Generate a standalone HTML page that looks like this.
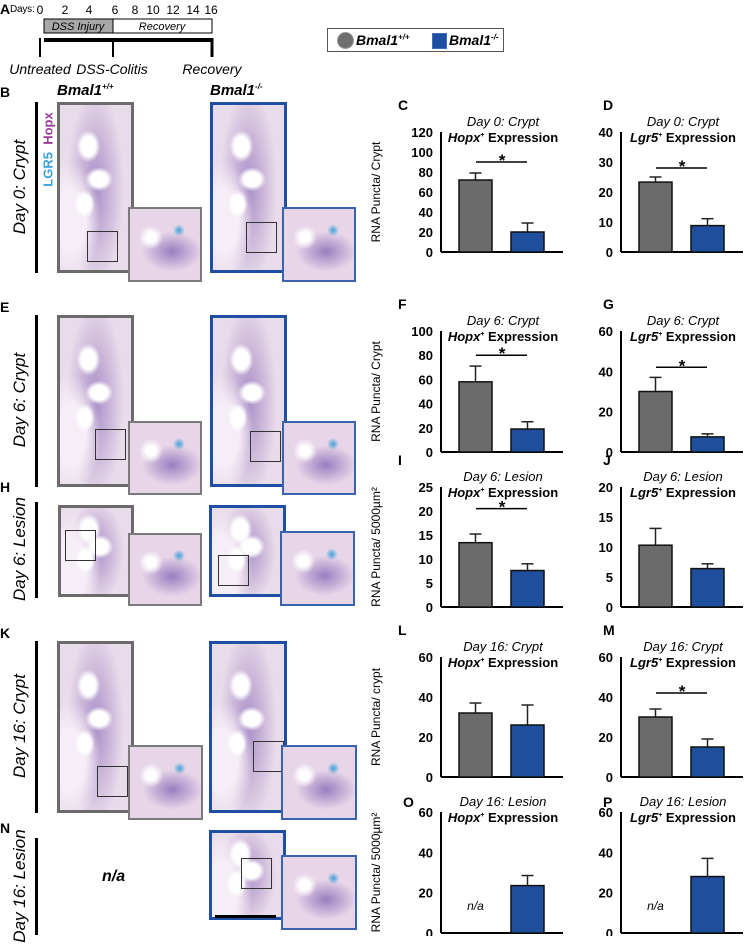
<!DOCTYPE html>
<html><head><meta charset="utf-8">
<style>
body{margin:0;width:744px;height:936px;background:#fff;position:relative;overflow:hidden;font-family:"Liberation Sans",sans-serif}
.a{position:absolute}
.tis{position:absolute;box-sizing:border-box;background:
radial-gradient(ellipse 12px 16px at 40% 25%,#fff 60%,transparent 100%),
radial-gradient(ellipse 14px 12px at 55% 45%,#fff 60%,transparent 100%),
radial-gradient(ellipse 10px 14px at 35% 60%,#fff 60%,transparent 100%),
radial-gradient(ellipse 30px 60px at 15% 70%,#f6eef6 50%,transparent 100%),
radial-gradient(ellipse 40% 60% at 50% 50%,#a890c8 0%,#c9b4d8 50%,#e9dcea 100%);}
.ins{position:absolute;box-sizing:border-box;background:
radial-gradient(circle 12px at 30% 40%,#fff 40%,transparent 100%),
radial-gradient(ellipse 30px 20px at 60% 60%,#9a7ec0 0%,transparent 100%),
radial-gradient(circle 6px at 70% 30%,#3fa0d8 0%,transparent 100%),
#e6d6e8;}
.g{border:3px solid #6b6b6b}.b{border:3px solid #1f4fa0}
.gi{border:2px solid #7a7a7a}.bi{border:2px solid #3a62ad}
.sq{position:absolute;border:1px solid #333;box-sizing:border-box}
.vb{position:absolute;left:35px;width:3px;background:#000}
.rl{position:absolute;font-style:italic;font-size:17px;transform:rotate(-90deg);transform-origin:center;white-space:nowrap;text-align:center}
.L{position:absolute;font-weight:bold;font-size:14px}
</style></head><body>
<div class="L" style="left:0;top:1px">A</div>
<div class="a" style="left:10px;top:4px;font-size:10px;letter-spacing:-0.2px">Days:</div>
<svg class="a" style="left:0;top:0" width="330" height="80">
<g font-size="12" text-anchor="middle" font-family="Liberation Sans">
<text x="40" y="14">0</text><text x="65" y="14">2</text><text x="89" y="14">4</text><text x="115" y="14">6</text><text x="135" y="14">8</text><text x="153" y="14">10</text><text x="173" y="14">12</text><text x="193" y="14">14</text><text x="211" y="14">16</text></g>
<rect x="44" y="19" width="69" height="14" fill="#a8a8a8" stroke="#000"/>
<rect x="113" y="19" width="99" height="14" fill="#fff" stroke="#000"/>
<text x="78" y="30" font-size="11" font-style="italic" text-anchor="middle">DSS Injury</text>
<text x="162" y="30" font-size="11" font-style="italic" text-anchor="middle">Recovery</text>
<line x1="44" y1="40" x2="212" y2="40" stroke="#000" stroke-width="4"/>
<line x1="40" y1="38" x2="40" y2="57" stroke="#000" stroke-width="2"/>
<line x1="113" y1="40" x2="113" y2="57" stroke="#000" stroke-width="2"/>
<line x1="212" y1="38" x2="212" y2="57" stroke="#000" stroke-width="3"/>
<g font-size="14" font-style="italic" text-anchor="middle"><text x="40" y="74">Untreated</text><text x="112" y="74">DSS-Colitis</text><text x="212" y="74">Recovery</text></g>
</svg>
<div class="a" style="left:327px;top:28px;width:177px;height:24px;border:1px solid #555;box-sizing:border-box">
<div class="a" style="left:9px;top:3px;width:15px;height:15px;border-radius:50%;background:#6e6e6e;border:1px solid #999"></div>
<div class="a" style="left:28px;top:3px;font-weight:bold;font-style:italic;font-size:14px">Bmal1<sup style="font-size:8px">+/+</sup></div>
<div class="a" style="left:104px;top:4px;width:13px;height:14px;background:#1f4fa0;border:1px solid #3f6fc0"></div>
<div class="a" style="left:121px;top:3px;font-weight:bold;font-style:italic;font-size:14px">Bmal1<sup style="font-size:8px">-/-</sup></div>
</div>

<div class="L" style="left:0;top:84px">B</div>
<div class="a" style="left:57px;top:82px;font-weight:bold;font-style:italic;font-size:15px">Bmal1<sup style="font-size:8px">+/+</sup></div>
<div class="a" style="left:210px;top:82px;font-weight:bold;font-style:italic;font-size:15px">Bmal1<sup style="font-size:8px">-/-</sup></div>
<div class="L" style="left:0;top:299px">E</div>
<div class="L" style="left:0;top:479px">H</div>
<div class="L" style="left:0;top:625px">K</div>
<div class="L" style="left:0;top:820px">N</div>

<div class="vb" style="top:102px;height:171px"></div>
<div class="vb" style="top:315px;height:172px"></div>
<div class="vb" style="top:502px;height:96px"></div>
<div class="vb" style="top:641px;height:172px"></div>
<div class="vb" style="top:838px;height:97px"></div>
<div class="rl" style="left:-40px;top:177px;width:120px">Day 0: Crypt</div>
<div class="rl" style="left:-40px;top:390px;width:120px">Day 6: Crypt</div>
<div class="rl" style="left:-40px;top:539px;width:120px">Day 6: Lesion</div>
<div class="rl" style="left:-40px;top:716px;width:120px">Day 16: Crypt</div>
<div class="rl" style="left:-40px;top:876px;width:120px">Day 16: Lesion</div>
<div class="rl" style="left:8px;top:142px;width:80px;font-style:normal;font-weight:bold;font-size:13px;color:#3aa0dc"><span style="color:#3aa0dc">LGR5</span> &nbsp;<span style="color:#9b3c9b">Hopx</span></div>

<div class="tis g" style="left:57px;top:102px;width:77px;height:171px"></div>
<div class="sq" style="left:87px;top:231px;width:31px;height:31px"></div>
<div class="ins gi" style="left:128px;top:207px;width:74px;height:75px"></div>
<div class="tis b" style="left:210px;top:102px;width:77px;height:171px"></div>
<div class="sq" style="left:246px;top:222px;width:31px;height:31px"></div>
<div class="ins bi" style="left:282px;top:207px;width:74px;height:75px"></div>

<div class="tis g" style="left:57px;top:315px;width:77px;height:172px"></div>
<div class="sq" style="left:95px;top:429px;width:31px;height:31px"></div>
<div class="ins gi" style="left:128px;top:421px;width:74px;height:74px"></div>
<div class="tis b" style="left:210px;top:315px;width:77px;height:172px"></div>
<div class="sq" style="left:250px;top:431px;width:31px;height:31px"></div>
<div class="ins bi" style="left:282px;top:421px;width:74px;height:74px"></div>

<div class="tis g" style="left:58px;top:505px;width:76px;height:92px"></div>
<div class="sq" style="left:65px;top:530px;width:31px;height:31px"></div>
<div class="ins gi" style="left:128px;top:533px;width:74px;height:73px"></div>
<div class="tis b" style="left:209px;top:505px;width:77px;height:92px"></div>
<div class="sq" style="left:218px;top:555px;width:31px;height:31px"></div>
<div class="ins bi" style="left:280px;top:531px;width:75px;height:75px"></div>

<div class="tis g" style="left:57px;top:641px;width:77px;height:172px"></div>
<div class="sq" style="left:97px;top:766px;width:31px;height:31px"></div>
<div class="ins gi" style="left:128px;top:745px;width:75px;height:75px"></div>
<div class="tis b" style="left:209px;top:641px;width:78px;height:172px"></div>
<div class="sq" style="left:253px;top:741px;width:31px;height:31px"></div>
<div class="ins bi" style="left:281px;top:745px;width:76px;height:75px"></div>

<div class="a" style="left:102px;top:868px;font-size:16px;font-weight:bold;font-style:italic">n/a</div>
<div class="tis b" style="left:209px;top:830px;width:77px;height:90px"></div>
<div class="sq" style="left:241px;top:858px;width:31px;height:31px"></div>
<div class="ins bi" style="left:281px;top:855px;width:76px;height:75px"></div>
<div class="a" style="left:215px;top:915px;width:61px;height:3px;background:#000"></div>

<svg id="charts" class="a" style="left:0;top:0" width="744" height="936" font-family="Liberation Sans"></svg>
<script>
const panelLetters=["C","D","F","G","I","J","L","M","O","P"];
const titles=["Day 0: Crypt","Day 0: Crypt","Day 6: Crypt","Day 6: Crypt","Day 6: Lesion","Day 6: Lesion","Day 16: Crypt","Day 16: Crypt","Day 16: Lesion","Day 16: Lesion"];
const genes=["Hopx","Lgr5","Hopx","Lgr5","Hopx","Lgr5","Hopx","Lgr5","Hopx","Lgr5"];
const yMax=[120,40,100,60,25,20,60,60,60,60];
const tickStep=[20,10,20,20,5,5,20,20,20,20];
const wtMeans=[72,23.3,58,30,13.4,10.3,32,30,null,null];
const wtErr=[7,1.7,13,7,1.8,2.8,5,4,null,null];
const koMeans=[20,8.8,19,7.5,7.6,6.4,26,15,23.5,28];
const koErr=[9,2.3,6,1.5,1.4,0.8,10,4,5,9];
const sigLevel=[90,28,80,42,20.5,null,null,42,null,null];
const yTitles=["RNA Puncta/ Crypt","RNA Puncta/ Crypt","RNA Puncta/ 5000µm²","RNA Puncta/ crypt","RNA Puncta/ 5000µm²"];

const svg=document.getElementById('charts');
const NS='http://www.w3.org/2000/svg';
const colX=[441,621], rowTop=[132,331,487,657,812], rowBot=[252,452,607,777,933];
function mk(t,a,p){const e=document.createElementNS(NS,t);for(const k in a)e.setAttribute(k,a[k]);(p||svg).appendChild(e);return e;}
panelLetters.forEach((L,i)=>{
  const r=Math.floor(i/2),c=i%2,x0=colX[c],top=rowTop[r],bot=rowBot[r],W=122;
  const g=mk('g',{});
  
  
  const yS=v=>bot-(v/yMax[i])*(bot-top);
  let t=mk('text',{x:(c?603:(r==4?403:398)),y:top-(r==4?5:22),'font-size':14,'font-weight':'bold'},g);t.textContent=L;
  t=mk('text',{x:x0+62,y:top-6,'font-size':13,'font-style':'italic','text-anchor':'middle'},g);t.textContent=titles[i];
  t=mk('text',{x:x0+62,y:top+10,'font-size':13,'font-weight':'bold','text-anchor':'middle'},g);
  const s1=mk('tspan',{'font-style':'italic'},t);s1.textContent=genes[i];
  const s2=mk('tspan',{'font-size':7,dy:-5},t);s2.textContent='+';
  const s3=mk('tspan',{dy:5},t);s3.textContent=' Expression';
  mk('line',{x1:x0,y1:top,x2:x0,y2:bot,stroke:'#000','stroke-width':2},g);
  mk('line',{x1:x0,y1:bot,x2:x0+W,y2:bot,stroke:'#000','stroke-width':2},g);
  for(let v=0;v<=yMax[i]+1e-9;v+=tickStep[i]){
    const tk=mk('text',{x:x0-8,y:yS(v)+5,'font-size':13,'font-weight':'bold','text-anchor':'end'},g);
    
    
    tk.textContent=v;
  }
  const bars=[[wtMeans[i],wtErr[i],'#6b6b6b',18],[koMeans[i],koErr[i],'#1f4e9c',70]];
  bars.forEach((b,j)=>{
    const bx=x0+b[3],bw=33,cx=bx+bw/2;
    if(b[0]==null){
      const na=mk('text',{x:cx,y:bot-23,'font-size':12,'font-style':'italic','text-anchor':'middle'},g);na.textContent='n/a';return;
    }
    mk('line',{x1:cx,y1:yS(b[0]),x2:cx,y2:yS(b[0]+b[1]),stroke:'#222','stroke-width':1.5},g);
    mk('line',{x1:cx-6,y1:yS(b[0]+b[1]),x2:cx+6,y2:yS(b[0]+b[1]),stroke:'#222','stroke-width':1.5},g);
    const rc=mk('rect',{x:bx,y:yS(b[0]),width:bw,height:bot-yS(b[0]),fill:b[2],stroke:'#111','stroke-width':1.5},g);
    
    
  });
  if(sigLevel[i]!=null){
    const sy=yS(sigLevel[i]);
    mk('line',{x1:x0+35,y1:sy,x2:x0+86,y2:sy,stroke:'#000','stroke-width':1.5},g);
    const st=mk('text',{x:x0+61,y:sy+4,'font-size':17,'font-weight':'bold','text-anchor':'middle'},g);st.textContent='*';
  }
  if(c==0){
    const yt=mk('text',{transform:`translate(380,${(top+bot)/2}) rotate(-90)`,'font-size':12,'text-anchor':'middle'},g);
    
    
    yt.textContent=yTitles[r];
  }
});
</script>
</body></html>
